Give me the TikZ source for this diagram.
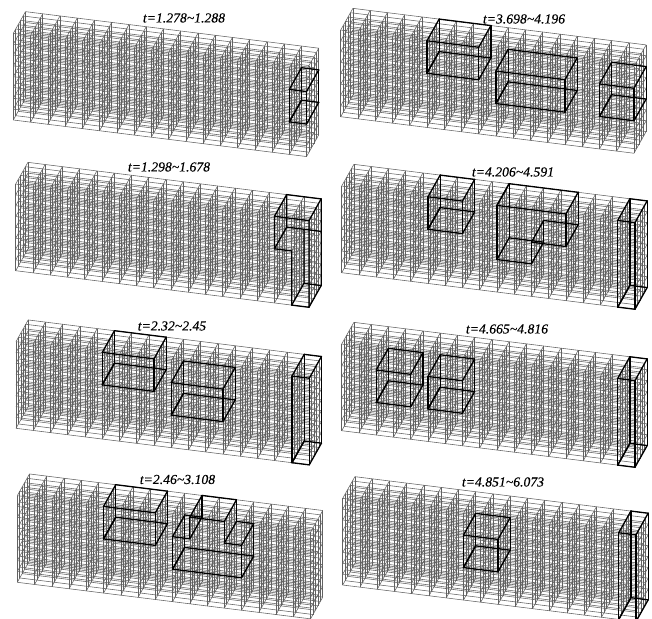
\documentclass[tikz,border=0pt]{standalone}
\usepackage{fontspec}
\setmainfont[ItalicFeatures={FakeBold=0.25}]{Liberation Serif}
\tikzset{
  gridline/.style={draw=black!62,line width=0.55pt},
  wire/.style={draw=black,line width=1.3pt,line cap=round},
  paneltitle/.style={font=\itshape\fontsize{13.7}{15}\selectfont,inner sep=0pt,text=black},
  cellaxes/.style={x={(17.25pt,-2.15pt)},y={(2.44pt,4.34pt)},z={(0pt,10.83pt)}}
}
% the 17 x 5 x 8 lattice of one panel
\newcommand{\lattice}{%
  \foreach \k in {0,...,8}{%
    \foreach \j in {0,...,5}{\draw[gridline] (0,\j,\k) -- (17,\j,\k);}%
    \foreach \i in {0,...,17}{\draw[gridline] (\i,0,\k) -- (\i,5,\k);}%
  }%
  \foreach \i in {0,...,17}{%
    \foreach \j in {0,...,5}{\draw[gridline] (\i,\j,0) -- (\i,\j,8);}%
  }%
}
% a prism of full depth over a closed outline i/k,...
\newcommand{\prismwire}[1]{%
  \foreach \j in {0,5}{%
    \foreach \i/\k [count=\n] in {#1}{%
      \ifnum\n>1 \draw[wire] (\lastI,\j,\lastK) -- (\i,\j,\k);\fi
      \xdef\lastI{\i}\xdef\lastK{\k}%
    }%
  }%
  \foreach \i/\k in {#1}{\draw[wire] (\i,0,\k) -- (\i,5,\k);}%
}
\newcommand{\boxwire}[4]{\prismwire{#1/#3,#2/#3,#2/#4,#1/#4,#1/#3}}
\begin{document}
\begin{tikzpicture}[x=1pt,y=1pt]
\useasboundingbox (0,0) rectangle (652,618);
\clip (0,0) rectangle (652,618);
\fill[white] (0,0) rectangle (652,618);
\begin{scope}[shift={(0pt,618pt)}]
  % left column
  \begin{scope}[shift={(13.3pt,-120pt)},cellaxes]
    \lattice
    \boxwire{16}{17}{3}{6}
  \end{scope}
  \begin{scope}[shift={(15.7pt,-270.7pt)},cellaxes]
    \lattice
    \draw[wire] (15,0,8) -- (17,0,8) -- (17,0,0) -- (16,0,0) -- (16,0,5) -- (15,0,5) -- cycle;
    \draw[wire] (15,5,8) -- (17,5,8) -- (17,5,0) -- (16,5,0) -- (16,5,5);
    \draw[wire] (15,5,8) -- (15,5,5) -- (17,5,5);
    \draw[wire] (15,0,8) -- (15,5,8);
    \draw[wire] (17,0,8) -- (17,5,8);
    \draw[wire] (17,0,0) -- (17,5,0);
    \draw[wire] (16,0,0) -- (16,5,0);
    \draw[wire] (15,0,5) -- (15,5,5);
  \end{scope}
  \begin{scope}[shift={(16pt,-428.3pt)},cellaxes]
    \lattice
    \boxwire{5}{8}{5}{8}
    \boxwire{9}{12}{3}{6}
    \boxwire{16}{17}{0}{8}
  \end{scope}
  \begin{scope}[shift={(17.3pt,-582.3pt)},cellaxes]
    \lattice
    \boxwire{5}{8}{5}{8}
    \prismwire{9/3,13/3,13/6,12/6,12/8,10/8,10/6,9/6,9/3}
  \end{scope}
  % right column
  \begin{scope}[shift={(340.7pt,-116.7pt)},cellaxes]
    \lattice
    \boxwire{5}{8}{5}{8}
    \boxwire{9}{13}{3}{6}
    \boxwire{15}{17}{3}{6}
  \end{scope}
  \begin{scope}[shift={(341.7pt,-272.7pt)},cellaxes]
    \lattice
    \boxwire{5}{7}{5}{8}
    \prismwire{9/8,13/8,13/5,11/5,11/3,9/3,9/8}
    \boxwire{16}{17}{0}{8}
  \end{scope}
  \begin{scope}[shift={(341.7pt,-430.7pt)},cellaxes]
    \lattice
    \boxwire{2}{4}{3}{6}
    \boxwire{5}{7}{3}{6}
    \boxwire{16}{17}{0}{8}
  \end{scope}
  \begin{scope}[shift={(342.7pt,-585pt)},cellaxes]
    \lattice
    \boxwire{7}{9}{3}{6}
    \boxwire{16}{17}{0}{8}
  \end{scope}
  % titles
  \node[paneltitle] (ta) at (184,-18) {t=1.278\textasciitilde1.288};
  \node[paneltitle] (tb) at (169,-167) {t=1.298\textasciitilde1.678};
  \node[paneltitle] (tc) at (172,-326) {t=2.32\textasciitilde2.45};
  \node[paneltitle] (td) at (177.5,-479.5) {t=2.46\textasciitilde3.108};
  \node[paneltitle] (te) at (524,-19) {t=3.698\textasciitilde4.196};
  \node[paneltitle] (tf) at (513,-172) {t=4.206\textasciitilde4.591};
  \node[paneltitle] (tg) at (507,-329) {t=4.665\textasciitilde4.816};
  \node[paneltitle] (th) at (503,-482) {t=4.851\textasciitilde6.073};
\end{scope}
\end{tikzpicture}
\end{document}
